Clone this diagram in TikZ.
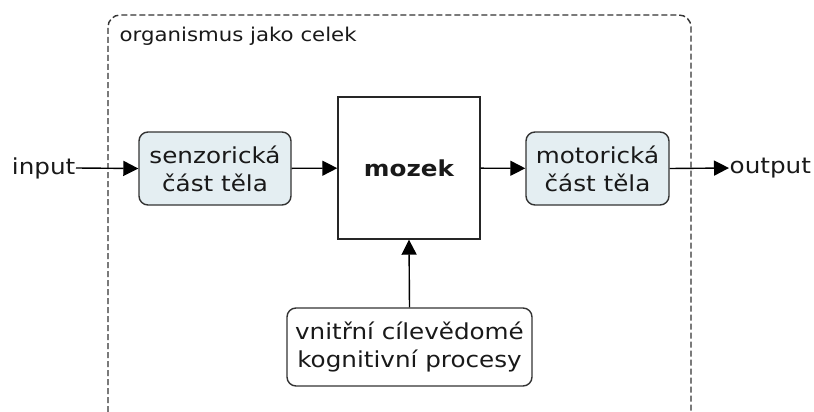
\documentclass[tikz,border=0pt]{standalone}
\usepackage{fontspec}
\setmainfont{DejaVu Sans}[FakeStretch=1.12]
\usetikzlibrary{arrows.meta}
\definecolor{partfill}{RGB}{228,238,242}
\begin{document}
\begin{tikzpicture}[x=1pt,y=-1pt,
  line width=1.4pt,
  every node/.style={font=\fontsize{22}{28}\selectfont, align=center, inner sep=0pt, text=black!90},
  part/.style={draw=black!80, rounded corners=9pt, fill=partfill},
  goal/.style={draw=black!80, rounded corners=9pt, fill=white},
  tip/.style={-{Triangle[length=15pt,width=15pt]}}
]
\useasboundingbox (0,0) rectangle (814,412);
% whole organism: dashed frame, open towards the bottom
\draw[black!80, dash pattern=on 6pt off 3pt, rounded corners=12pt]
  (108,412) -- (108,15) -- (691,15) -- (691,412);
\node[anchor=base west, font=\fontsize{19}{23}\selectfont] (title) at (119,42) {organismus jako celek};

\node[part, minimum width=152pt, minimum height=73pt] (sens) at (215,168.5) {senzorická\\část těla};
\node[draw=black!85, minimum width=142pt, minimum height=142pt] (brain) at (409,168) {\bfseries mozek};
\node[part, minimum width=143pt, minimum height=73pt] (mot) at (597.5,168.5) {motorická\\část těla};
\node[goal, minimum width=245pt, minimum height=78pt] (goal) at (409.5,347) {vnitřní cílevědomé\\kognitivní procesy};

\node[anchor=east] (in) at (76,168) {input};
\node[anchor=west] (out) at (729,168) {output};

\draw[tip] (in.east) -- (sens.west);
\draw[tip] (sens) -- (brain);
\draw[tip] (brain) -- (mot);
\draw[tip] (mot.east) -- (out.west);
\draw[tip] (goal.north) -- (brain.south);
\end{tikzpicture}
\end{document}
